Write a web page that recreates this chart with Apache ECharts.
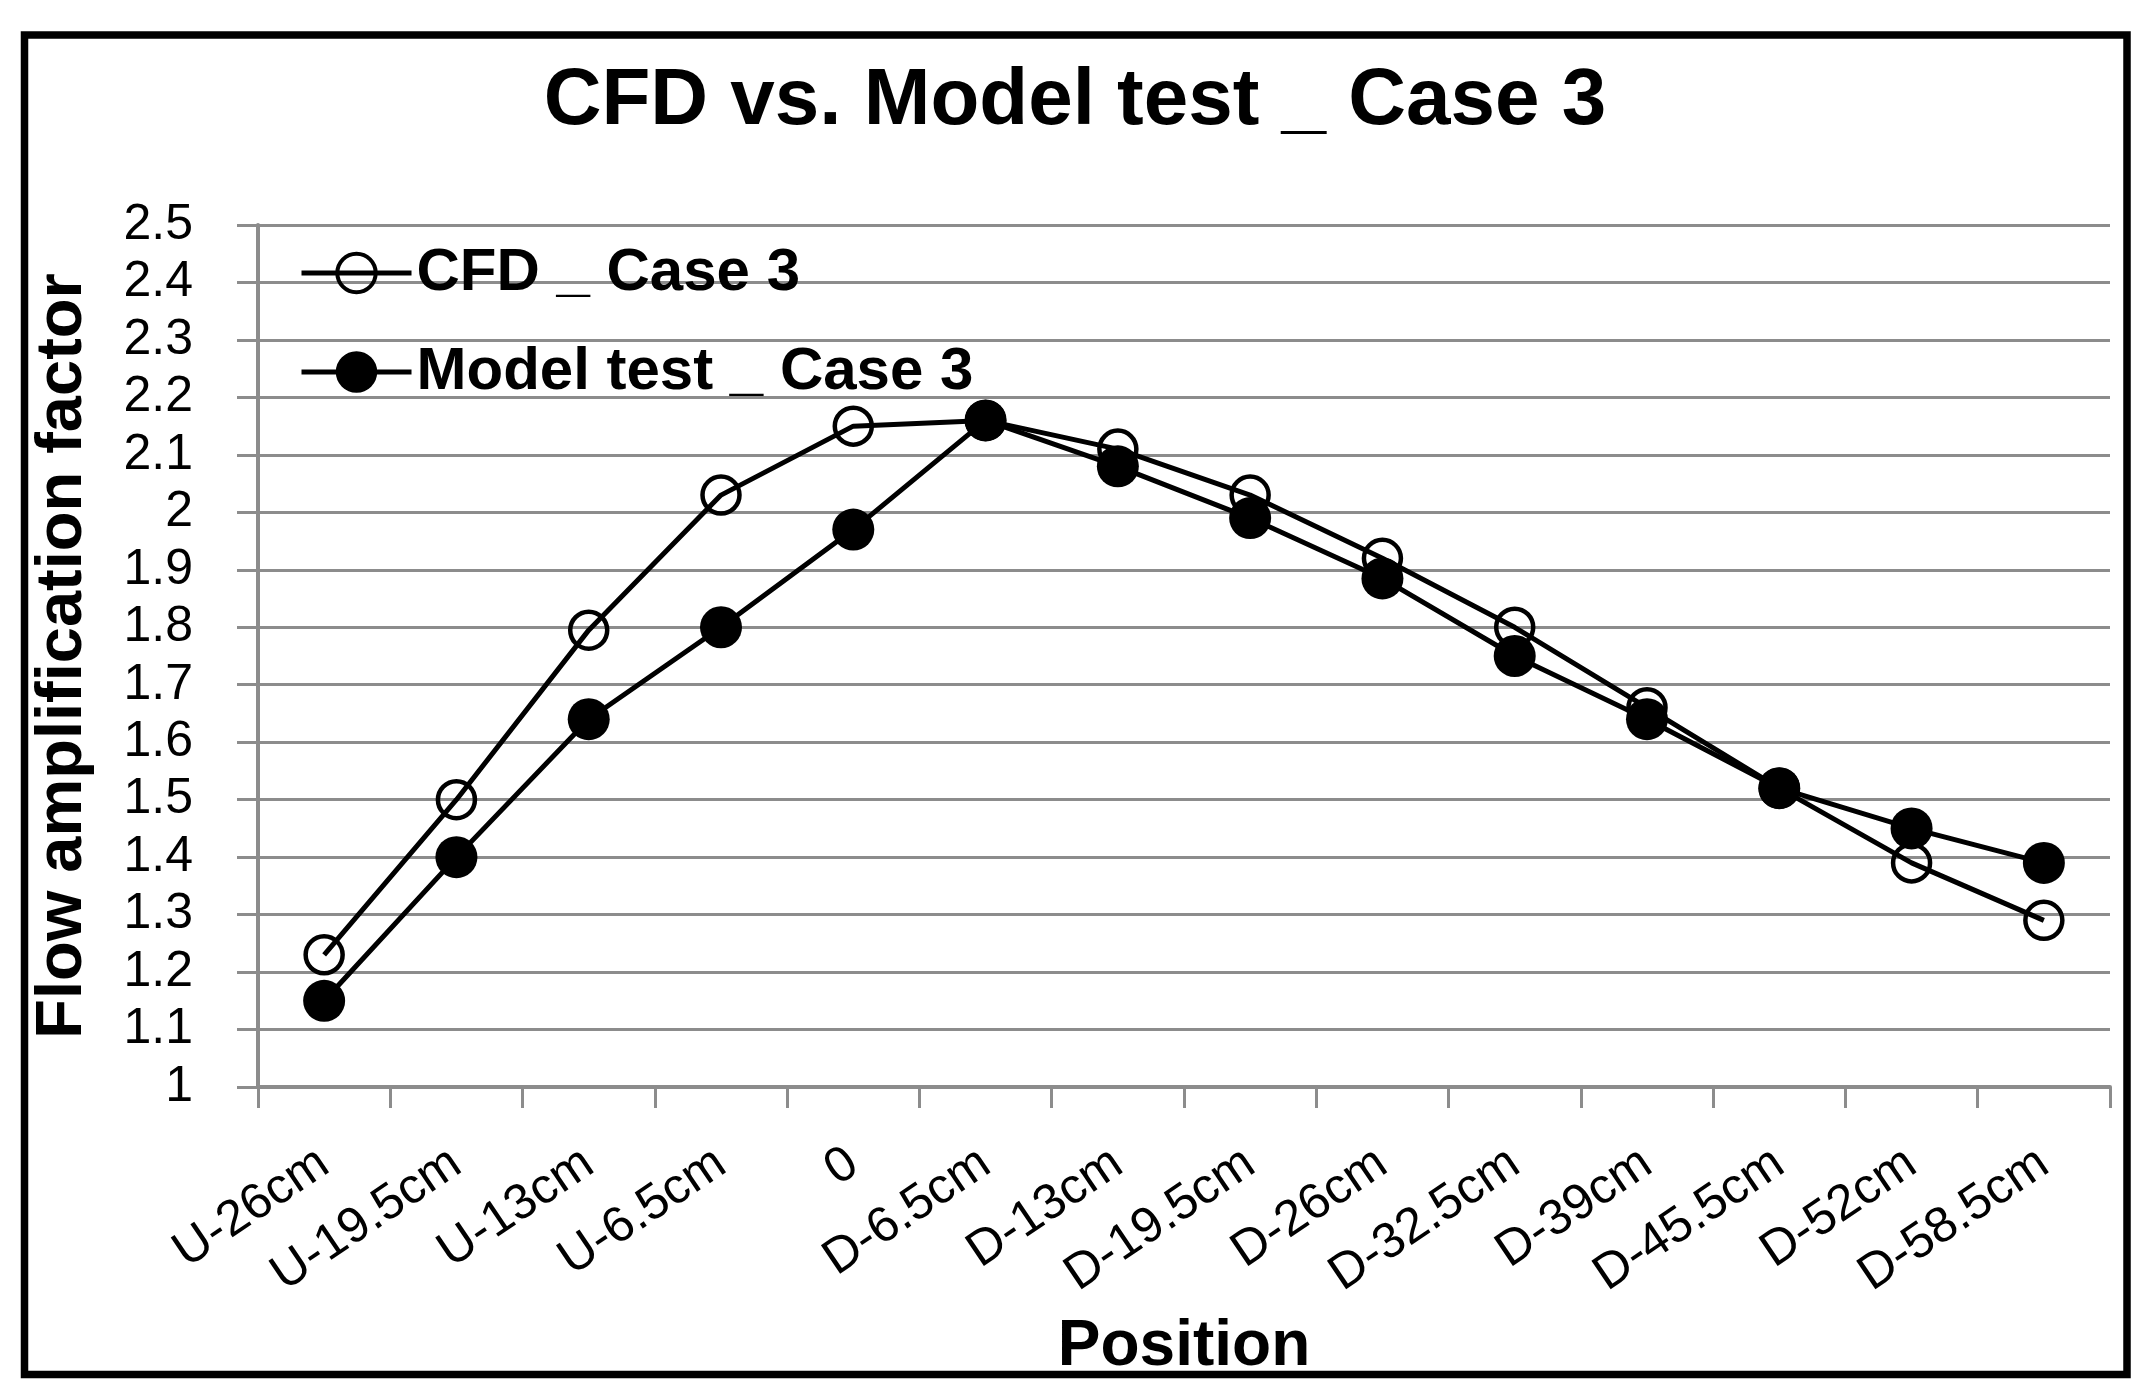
<!DOCTYPE html>
<html>
<head>
<meta charset="utf-8">
<script src="https://cdn.jsdelivr.net/npm/echarts@6/dist/echarts.min.js"></script>
<style>
html,body{margin:0;padding:0;background:#fff;}
#chart{width:2150px;height:1399px;}
</style>
</head>
<body>
<div id="chart"></div>
<script>
const titleText = 'CFD vs. Model test _ Case 3';
const categories = ['U-26cm','U-19.5cm','U-13cm','U-6.5cm','0','D-6.5cm','D-13cm','D-19.5cm','D-26cm','D-32.5cm','D-39cm','D-45.5cm','D-52cm','D-58.5cm'];
const cfdName = 'CFD _ Case 3';
const modelName = 'Model test _ Case 3';
const cfdValues = [1.23, 1.50, 1.795, 2.03, 2.15, 2.16, 2.11, 2.03, 1.92, 1.80, 1.66, 1.52, 1.39, 1.29];
const modelValues = [1.15, 1.40, 1.64, 1.80, 1.97, 2.16, 2.08, 1.99, 1.885, 1.75, 1.64, 1.52, 1.45, 1.39];
const yName = 'Flow amplification factor';
const xName = 'Position';

const FONT = "'Liberation Sans', Arial, sans-serif";
const GRAY = '#8c8c8c';
const chart = echarts.init(document.getElementById('chart'));
chart.setOption({
  backgroundColor: '#fff',
  animation: false,
  title: {
    text: titleText,
    left: 'center',
    top: 57,
    textStyle: { fontFamily: FONT, fontSize: 80, fontWeight: 'bold', color: '#000' }
  },
  graphic: [{
    type: 'rect',
    shape: { x: 24.5, y: 35, width: 2102.5, height: 1339.5 },
    style: { fill: null, stroke: '#000', lineWidth: 7.5 },
    z: 100
  }],
  legend: {
    orient: 'vertical',
    left: 299,
    top: 243,
    padding: 0,
    itemGap: 39,
    itemWidth: 110,
    itemHeight: 48,
    textStyle: { fontFamily: FONT, fontSize: 60, fontWeight: 'bold', color: '#000', lineHeight: 60 },
    data: [
      { name: cfdName, itemStyle: { color: 'rgba(0,0,0,0)', borderColor: '#000', borderWidth: 4 }, lineStyle: { color: '#000', width: 5 } },
      { name: modelName, itemStyle: { color: '#000', borderColor: '#000', borderWidth: 3 }, lineStyle: { color: '#000', width: 5 } }
    ]
  },
  grid: { left: 258, right: 40, top: 225, bottom: 312, containLabel: false },
  xAxis: {
    type: 'category',
    data: categories,
    boundaryGap: true,
    name: xName,
    nameLocation: 'middle',
    nameGap: 260,
    nameTextStyle: { fontFamily: FONT, fontSize: 64, fontWeight: 'bold', color: '#000', verticalAlign: 'middle' },
    axisLine: { show: true, lineStyle: { color: GRAY, width: 4 } },
    axisTick: { show: true, length: 21, lineStyle: { color: GRAY, width: 3 } },
    axisLabel: { rotate: 34, margin: 72, fontFamily: FONT, fontSize: 50, color: '#000', interval: 0 },
    splitLine: { show: false }
  },
  yAxis: {
    type: 'value',
    min: 1,
    max: 2.5,
    interval: 0.1,
    name: yName,
    nameLocation: 'middle',
    nameGap: 195,
    nameTextStyle: { fontFamily: FONT, fontSize: 65, fontWeight: 'bold', color: '#000', verticalAlign: 'middle' },
    axisLine: { show: true, lineStyle: { color: GRAY, width: 4 } },
    axisTick: { show: true, length: 21, lineStyle: { color: GRAY, width: 3 } },
    axisLabel: { margin: 65, fontFamily: FONT, fontSize: 50, color: '#000' },
    splitLine: { show: true, lineStyle: { color: GRAY, width: 3 } }
  },
  series: [
    {
      name: cfdName,
      type: 'line',
      data: cfdValues,
      symbol: 'circle',
      symbolSize: 37,
      lineStyle: { color: '#000', width: 5 },
      itemStyle: { color: 'rgba(0,0,0,0)', borderColor: '#000', borderWidth: 4.5 },
      z: 2
    },
    {
      name: modelName,
      type: 'line',
      data: modelValues,
      symbol: 'circle',
      symbolSize: 42,
      lineStyle: { color: '#000', width: 5 },
      itemStyle: { color: '#000', borderColor: '#000', borderWidth: 0 },
      z: 3
    }
  ]
});
</script>
</body>
</html>
